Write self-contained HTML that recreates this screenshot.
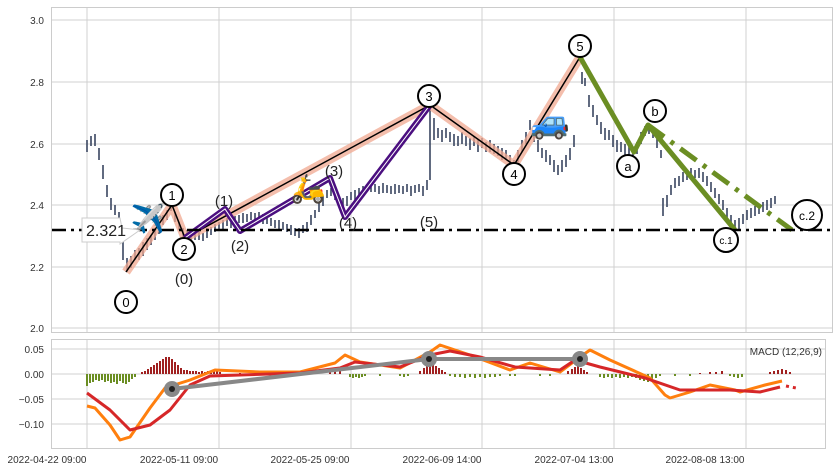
<!DOCTYPE html>
<html><head><meta charset="utf-8"><style>
body{margin:0;background:#fff;}
svg{display:block;font-family:"Liberation Sans",sans-serif;}
</style></head><body>
<svg width="838" height="471" xmlns="http://www.w3.org/2000/svg">
<rect x="0" y="0" width="838" height="471" fill="#fff"/>
<g stroke="#d0d0d0" stroke-width="1">
<path d="M87 8V332M219 8V332M351 8V332M482 8V332M614 8V332M746 8V332M87 340V448M219 340V448M351 340V448M482 340V448M614 340V448M746 340V448"/>
<path d="M52 20H832M52 82H832M52 144H832M52 205H832M52 267H832M52 328H832M52 349H825M52 374H825M52 399H825M52 424H825"/>
</g>
<rect x="51.5" y="7.5" width="781" height="325" fill="none" stroke="#ccc"/>
<rect x="51.5" y="339.5" width="774" height="109" fill="none" stroke="#ccc"/>
<g font-size="10" fill="#333" text-anchor="end">
<text x="44" y="24">3.0</text><text x="44" y="86">2.8</text><text x="44" y="148">2.6</text>
<text x="44" y="209">2.4</text><text x="44" y="271">2.2</text><text x="44" y="332">2.0</text>
<text x="44" y="353">0.05</text><text x="44" y="378">0.00</text><text x="44" y="403">−0.05</text><text x="44" y="428">−0.10</text>
</g>
<g font-size="10" fill="#333" text-anchor="middle">
<text x="47" y="463">2022-04-22 09:00</text><text x="179" y="463">2022-05-11 09:00</text>
<text x="310" y="463">2022-05-25 09:00</text><text x="442" y="463">2022-06-09 14:00</text>
<text x="574" y="463">2022-07-04 13:00</text><text x="705" y="463">2022-08-08 13:00</text>
</g>
<path fill="none" stroke="#3a4660" stroke-width="1.6" d="M87 140v12M91 136v10M95 134v12M99 148v12M103 165v14M107 185v12M111 198v12M115 205v10M119 212v12M123 235v25M127 258v14M131 256v12M135 250v10M139 248v12M143 242v14M147 238v12M151 235v10M155 228v12M159 222v12M163 215v10M167 210v10M171 203v8M175 212v10M179 222v8M183 228v10M187 230v8M191 232v8M195 230v10M199 232v8M203 233v8M207 228v10M211 227v8M215 224v8M219 222v8M223 220v10M227 218v8M231 218v10M235 216v8M239 215v8M243 213v10M247 214v8M251 212v8M255 213v8M259 212v8M263 214v10M267 216v8M271 218v8M275 220v8M279 220v10M283 222v8M287 224v8M291 225v10M295 228v8M299 228v10M303 225v8M307 222v10M311 215v10M315 210v8M319 202v10M323 196v10M327 190v8M331 188v8M335 192v8M339 196v8M343 198v8M347 196v10M351 192v8M355 190v10M359 188v8M363 186v8M367 184v8M371 182v10M375 184v8M379 186v8M383 183v10M387 185v8M391 186v8M395 184v10M399 185v8M403 186v8M407 184v8M411 186v10M415 185v8M419 184v8M423 186v10M427 180v10M430 100v80M434 118v22M438 128v10M442 130v12M446 128v10M450 132v10M454 134v12M458 136v10M462 132v12M466 136v10M470 138v12M474 136v10M478 140v12M482 138v10M486 142v10M490 140v12M494 144v10M498 146v10M502 148v12M506 150v10M510 155v12M514 160v10M518 150v12M522 140v12M526 132v12M530 120v10M534 130v12M538 140v12M542 148v10M546 150v12M550 155v10M554 160v12M558 165v10M562 160v12M566 155v12M570 148v12M574 135v12M582 72v12M585 78v8M589 95v12M593 105v12M597 115v10M601 122v12M605 128v12M609 130v10M613 135v12M617 140v12M621 142v10M625 144v12M629 146v10M633 148v12M637 142v12M641 132v12M645 126v10M649 124v10M653 128v10M657 138v10M661 150v8M663 198v18M667 195v12M671 185v10M675 178v10M679 176v10M683 172v10M687 170v10M691 168v10M695 170v8M699 168v10M703 172v10M707 176v10M711 182v10M715 188v10M719 194v10M723 200v10M727 208v12M731 215v12M735 220v10M739 218v12M743 214v10M747 210v10M751 208v10M755 206v10M759 204v10M763 202v10M767 200v10M771 198v10M775 196v8"/>
<!-- histogram -->
<path fill="none" stroke="#6b8e23" stroke-width="2" d="M87 374v12M90 374v9M93 374v8M96 374v6M99 374v7M102 374v6M105 374v8M108 374v7M111 374v9M114 374v8M117 374v10M120 374v7M123 374v9M126 374v10M129 374v8M132 374v5M135 374v3M350 374v3M353 374v4M356 374v3M359 374v4M362 374v3M365 374v2M380 374v2M400 374v2M404 374v3M408 374v2M450 374v2M455 374v3M460 374v3M465 374v4M470 374v3M475 374v4M480 374v3M485 374v4M490 374v3M495 374v3M500 374v2M510 374v2M515 374v2M540 374v2M550 374v2M600 374v3M604 374v4M608 374v3M612 374v4M616 374v3M620 374v4M624 374v3M628 374v4M632 374v3M636 374v4M640 374v6M644 374v7M648 374v8M652 374v6M656 374v4M660 374v2M675 374v2M690 374v2M730 374v2M734 374v3M738 374v4M742 374v3"/>
<path fill="none" stroke="#a02020" stroke-width="2" d="M142 374v-2M145 374v-3M148 374v-5M151 374v-7M154 374v-9M157 374v-11M160 374v-13M163 374v-15M166 374v-17M169 374v-17M172 374v-15M175 374v-12M178 374v-9M181 374v-6M184 374v-4M187 374v-4M190 374v-3M193 374v-3M196 374v-3M199 374v-2M202 374v-3M205 374v-2M208 374v-3M211 374v-3M214 374v-4M217 374v-3M220 374v-2M240 374v-1M270 374v-1M330 374v-2M335 374v-3M340 374v-3M420 374v-3M424 374v-6M427 374v-9M430 374v-11M433 374v-10M436 374v-8M439 374v-6M442 374v-4M445 374v-2M568 374v-3M572 374v-5M575 374v-7M578 374v-8M581 374v-6M584 374v-4M587 374v-2M700 374v-1M710 374v-2M716 374v-2M722 374v-3M770 374v-2M774 374v-3M778 374v-4M782 374v-5M786 374v-4M790 374v-2"/>
<!-- main wave -->
<polyline points="126,272 172,205 185,238 430,105 514,165 580,57" fill="none" stroke="#f0a890" stroke-opacity="0.75" stroke-width="9" stroke-linejoin="round"/>
<polyline points="126,272 172,205 185,238 430,105 514,165 580,57" fill="none" stroke="#000" stroke-width="1.5"/>
<polyline points="185,238 225,209 240,231 330,178 345,217 430,105" fill="none" stroke="#4b0f80" stroke-width="6" stroke-linejoin="round"/>
<polyline points="185,238 225,209 240,231 330,178 345,217 430,105" fill="none" stroke="#fff" stroke-width="1"/>
<polyline points="580,57 634,152 648,125 735,230" fill="none" stroke="#6b8e23" stroke-width="5" stroke-linejoin="round"/>
<line x1="648" y1="125" x2="792" y2="230" stroke="#6b8e23" stroke-width="5" stroke-dasharray="20,8,4,8"/>
<line x1="52" y1="230" x2="832" y2="230" stroke="#000" stroke-width="2.5" stroke-dasharray="14,5,3,5"/>
<g fill="#fff" stroke="#000" stroke-width="2">
<circle cx="126" cy="302" r="11"/><circle cx="172" cy="195" r="11"/><circle cx="184" cy="249" r="11"/>
<circle cx="429" cy="96" r="11"/><circle cx="514" cy="174" r="11"/><circle cx="580" cy="46" r="11"/>
<circle cx="628" cy="166" r="11"/><circle cx="655" cy="111" r="11"/><circle cx="726" cy="240" r="12"/><circle cx="807" cy="215" r="15"/>
</g>
<g font-size="13" text-anchor="middle" fill="#000">
<text x="126" y="307">0</text><text x="172" y="200">1</text><text x="184" y="254">2</text>
<text x="429" y="101">3</text><text x="514" y="179">4</text><text x="580" y="51">5</text>
<text x="628" y="171">a</text><text x="655" y="116">b</text>
<text x="726" y="244" font-size="10">c.1</text><text x="807" y="220" font-size="12">c.2</text>
</g>
<g font-size="15" text-anchor="middle" fill="#222">
<text x="184" y="284">(0)</text><text x="224" y="206">(1)</text><text x="240" y="251">(2)</text>
<text x="334" y="176">(3)</text><text x="348" y="228">(4)</text><text x="429" y="227">(5)</text>
</g>
<path d="M82,218 H120 L122,228 L140,230 L120,244 V242 H82 Z" fill="#fff" stroke="#ccc"/>
<text x="86" y="236" font-size="16" fill="#222">2.321</text>
<text x="148" y="228" font-size="28" text-anchor="middle">✈️</text>
<text x="308" y="198" font-size="28" text-anchor="middle">🛵</text>
<text x="550" y="133" font-size="32" text-anchor="middle">🚙</text>
<!-- MACD -->
<polyline fill="none" stroke="#ff7f0e" stroke-width="3" stroke-linejoin="round" points="87,406 95,408 110,425 120,440 130,437 150,408 165,388 190,380 215,370 260,372 300,372 335,363 345,355 360,362 400,368 430,352 440,345 470,355 510,370 530,363 560,372 580,357 590,350 610,360 650,378 665,395 670,398 690,392 710,385 735,390 740,392 765,385 782,381"/>
<polyline fill="none" stroke="#d62728" stroke-width="3" stroke-linejoin="round" points="87,393 110,410 130,430 150,425 170,410 190,385 210,376 300,373 340,368 355,362 400,367 430,355 450,351 480,357 515,367 560,370 575,360 600,367 645,378 680,390 730,390 760,392 780,387"/>
<line x1="786" y1="386" x2="796" y2="388" stroke="#d62728" stroke-width="3" stroke-dasharray="3,4"/>
<polyline points="172,389 429,359 580,359" fill="none" stroke="#888" stroke-width="4"/>
<g fill="#888"><circle cx="172" cy="389" r="8"/><circle cx="429" cy="359" r="8"/><circle cx="580" cy="359" r="8"/></g>
<g fill="#222"><circle cx="172" cy="389" r="3"/><circle cx="429" cy="359" r="3"/><circle cx="580" cy="359" r="3"/></g>
<text x="822" y="355" font-size="10" text-anchor="end" fill="#333">MACD (12,26,9)</text>
</svg>
</body></html>
